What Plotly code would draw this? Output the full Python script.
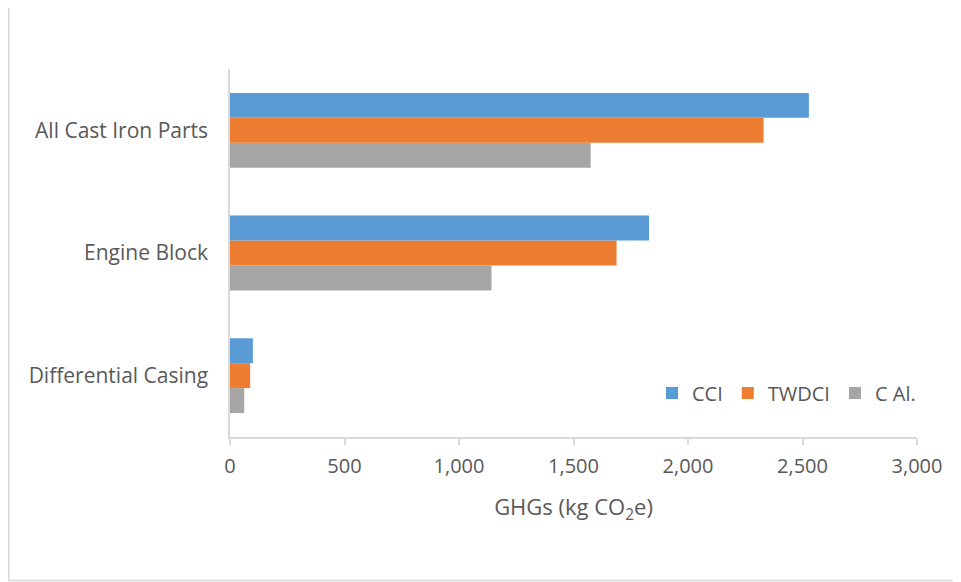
import plotly.graph_objects as go

categories = ["Differential Casing", "Engine Block", "All Cast Iron Parts"]
series_names = ["CCI", "TWDCI", "C Al."]
cci = [100, 1830, 2528]
twdci = [88, 1688, 2330]
cal = [62, 1142, 1575]
colors = {"CCI": "#5B9BD5", "TWDCI": "#ED7D31", "C Al.": "#A5A5A5"}
x_ticks = [0, 500, 1000, 1500, 2000, 2500, 3000]
x_tick_labels = ["0", "500", "1,000", "1,500", "2,000", "2,500", "3,000"]

values = {"CCI": cci, "TWDCI": twdci, "C Al.": cal}
FONT = "Open Sans"
TXT = "#595959"

fig = go.Figure()
for name in reversed(series_names):
    fig.add_trace(go.Bar(
        y=categories, x=values[name], name=name, orientation="h",
        marker=dict(color=colors[name], line=dict(width=0)),
    ))

W, H = 961, 582
OFF = 8  # page body margin
# target plot-area edges in page pixels
L, R, T, B = 230, 917, 69, 437

def px_x(p):
    return (p - L) / (R - L)

def px_y(p):
    return (B - p) / (B - T)

fig.update_layout(
    width=W, height=H,
    margin=dict(l=L - OFF, r=W - (R - OFF), t=T - OFF, b=H - (B - OFF)),
    paper_bgcolor="white", plot_bgcolor="white",
    barmode="group", bargap=0.39, bargroupgap=0,
    font=dict(family=FONT, color=TXT, size=20),
    showlegend=True,
    legend=dict(
        orientation="h", traceorder="reversed",
        x=px_x(652), y=px_y(393), xanchor="left", yanchor="middle",
        font=dict(family=FONT, size=20, color=TXT),
        bgcolor="rgba(0,0,0,0)",
    ),
    xaxis=dict(
        range=[0, 3000], tickvals=x_ticks, ticktext=x_tick_labels,
        showgrid=False, zeroline=False,
        showline=True, linecolor="#D9D9D9", linewidth=1.5,
        ticks="outside", ticklen=6, tickcolor="#D9D9D9", tickwidth=1.5,
        ticklabelstandoff=4,
        tickfont=dict(family=FONT, size=20, color=TXT),
        title=dict(text="GHGs (kg CO<sub>2</sub>e)", standoff=22,
                   font=dict(family=FONT, size=22, color=TXT)),
    ),
    yaxis=dict(
        showgrid=False, zeroline=False,
        showline=True, linecolor="#D9D9D9", linewidth=1.5,
        ticks="", ticklabelstandoff=16,
        tickfont=dict(family=FONT, size=21, color=TXT),
    ),
    shapes=[dict(
        type="rect", xref="paper", yref="paper",
        x0=px_x(8.75), x1=px_x(964), y0=px_y(580.5), y1=px_y(5.5),
        line=dict(color="#D9D9D9", width=1.5), fillcolor="rgba(0,0,0,0)",
        layer="below",
    )],
)

fig.write_html("out.html")
